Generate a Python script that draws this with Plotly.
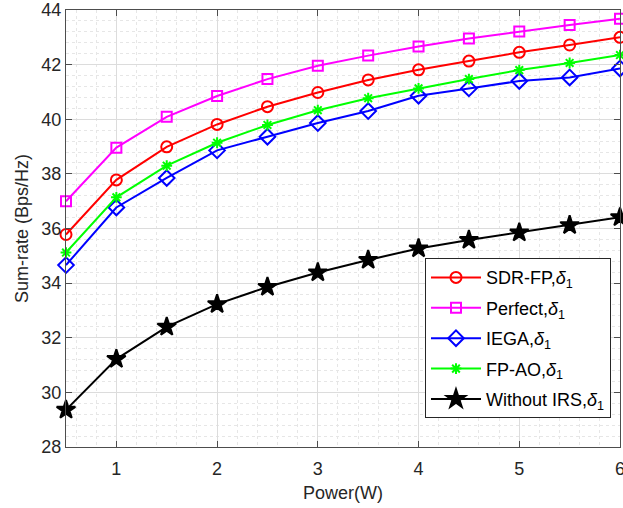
import plotly.graph_objects as go

power = [0.5, 1, 1.5, 2, 2.5, 3, 3.5, 4, 4.5, 5, 5.5, 6]
sdr_fp = [35.78, 37.78, 38.99, 39.81, 40.46, 40.98, 41.44, 41.81, 42.13, 42.45, 42.72, 43.0]
perfect = [37.0, 38.96, 40.09, 40.85, 41.47, 41.96, 42.33, 42.66, 42.96, 43.21, 43.45, 43.68]
iega = [34.66, 36.77, 37.85, 38.86, 39.36, 39.86, 40.30, 40.86, 41.13, 41.40, 41.53, 41.86]
fp_ao = [35.12, 37.14, 38.30, 39.14, 39.79, 40.33, 40.77, 41.13, 41.47, 41.80, 42.06, 42.35]
without_irs = [29.36, 31.22, 32.40, 33.23, 33.86, 34.39, 34.85, 35.27, 35.58, 35.85, 36.12, 36.41]

names = ["SDR-FP,", "Perfect,", "IEGA,", "FP-AO,", "Without IRS,"]
sub = "<i>δ</i><sub>1</sub>"

series = [
    (sdr_fp, names[0], "red", "circle-open", 11),
    (perfect, names[1], "magenta", "square-open", 10),
    (iega, names[2], "blue", "diamond-open", 12),
    (fp_ao, names[3], "#00ff00", "asterisk-open", 9),
    (without_irs, names[4], "black", "star", 14),
]

fig = go.Figure()
for i, (ys, nm, col, sym, sz) in enumerate(series):
    fig.add_trace(go.Scatter(
        x=power, y=ys, mode="lines+markers", name=nm + sub, legendgroup=f"g{i}",
        line=dict(color=col, width=2), cliponaxis=False,
        marker=dict(symbol=sym, size=sz, color=col, line=dict(color=col, width=2)),
    ))

FONT = "Liberation Sans, Arial"
axis_common = dict(
    showline=True, linecolor="#4d4d4d", linewidth=1, mirror="allticks",
    ticks="inside", ticklen=6, tickcolor="#4d4d4d",
    showgrid=True, gridcolor="#dcdcdc", gridwidth=1,
    zeroline=False, ticklabeloverflow="allow", automargin=False,
    tickfont=dict(family=FONT, size=18, color="#262626"),
    title_font=dict(family=FONT, size=18, color="#262626"),
)

fig.update_xaxes(
    range=[0.5, 6], tick0=0, dtick=1, title_text="Power(W)", title_standoff=8,
    ticklabelstandoff=5,
    minor=dict(dtick=0.2, tick0=0, showgrid=True, gridcolor="#e6e6e6", griddash="dot", ticks=""),
    **axis_common,
)
fig.update_yaxes(
    range=[28, 44], tick0=28, dtick=2, title_text="Sum-rate (Bps/Hz)", title_standoff=8,
    minor=dict(dtick=0.4, tick0=28, showgrid=True, gridcolor="#e6e6e6", griddash="dot", ticks=""),
    **axis_common,
)

fig.update_layout(
    width=623, height=508,
    margin=dict(l=66, r=3, t=10, b=61),
    plot_bgcolor="white", paper_bgcolor="white",
    font=dict(family=FONT, color="#262626"),
    showlegend=True,
    legend=dict(
        x=0.648, y=0.432, xanchor="left", yanchor="top",
        bgcolor="white", bordercolor="#262626", borderwidth=1,
        font=dict(family=FONT, size=18, color="black"),
        tracegroupgap=4, itemwidth=50,
    ),
)

fig.write_html("out.html")
